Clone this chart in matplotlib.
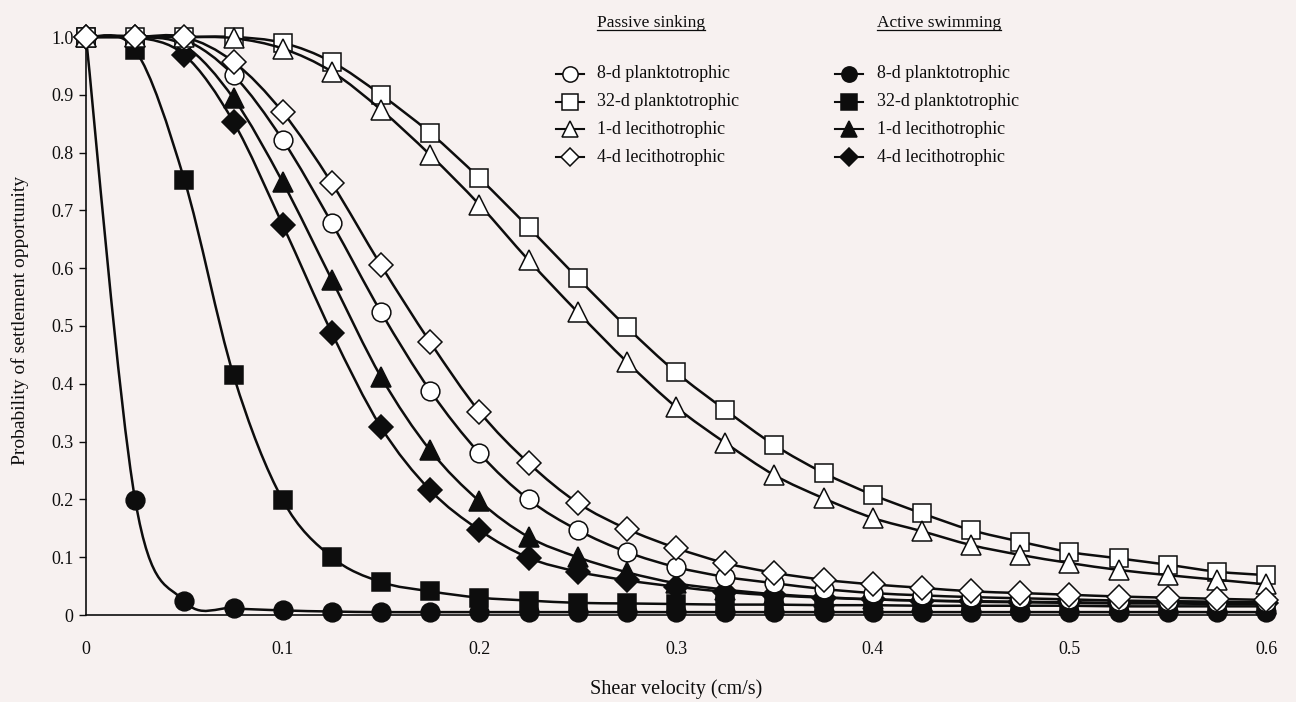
import matplotlib
matplotlib.use("Agg")
import matplotlib.pyplot as plt
import numpy as np
from matplotlib.lines import Line2D
from matplotlib.patches import PathPatch
from matplotlib.path import Path

# shear velocity (cm/s) at which each probability was computed
shear = [0.000, 0.025, 0.050, 0.075, 0.100, 0.125, 0.150, 0.175, 0.200,
         0.225, 0.250, 0.275, 0.300, 0.325, 0.350, 0.375, 0.400, 0.425,
         0.450, 0.475, 0.500, 0.525, 0.550, 0.575, 0.600]

# passive sinking (open symbols)
passive_8d = [1.000, 1.000, 0.995, 0.934, 0.822, 0.678, 0.524, 0.388, 0.280,
              0.200, 0.147, 0.109, 0.083, 0.066, 0.055, 0.045, 0.038, 0.034,
              0.031, 0.029, 0.027, 0.025, 0.024, 0.023, 0.022]
passive_32d = [1.000, 1.000, 1.000, 1.000, 0.990, 0.957, 0.900, 0.834, 0.756,
               0.671, 0.583, 0.498, 0.420, 0.355, 0.294, 0.246, 0.208, 0.176,
               0.147, 0.127, 0.109, 0.098, 0.087, 0.075, 0.069]
passive_1d = [1.000, 1.000, 1.000, 0.998, 0.980, 0.940, 0.874, 0.796, 0.710,
              0.614, 0.524, 0.438, 0.360, 0.298, 0.242, 0.202, 0.168, 0.145,
              0.121, 0.104, 0.090, 0.078, 0.069, 0.061, 0.053]
passive_4d = [1.000, 1.000, 1.000, 0.957, 0.870, 0.747, 0.605, 0.472, 0.352,
              0.263, 0.194, 0.149, 0.116, 0.090, 0.073, 0.061, 0.053, 0.047,
              0.041, 0.038, 0.035, 0.032, 0.030, 0.028, 0.026]

# active swimming (filled symbols)
active_8d = [1.000, 0.199, 0.024, 0.012, 0.008, 0.006, 0.005, 0.005, 0.005,
             0.005, 0.005, 0.005, 0.005, 0.005, 0.005, 0.005, 0.005, 0.005,
             0.005, 0.005, 0.005, 0.005, 0.005, 0.005, 0.005]
active_32d = [1.000, 0.978, 0.753, 0.415, 0.199, 0.100, 0.057, 0.041, 0.030,
              0.025, 0.021, 0.020, 0.019, 0.018, 0.018, 0.017, 0.017, 0.016,
              0.016, 0.016, 0.016, 0.015, 0.015, 0.015, 0.015]
active_1d = [1.000, 1.000, 0.985, 0.894, 0.749, 0.580, 0.412, 0.285, 0.197,
             0.135, 0.100, 0.074, 0.055, 0.044, 0.036, 0.031, 0.027, 0.025,
             0.023, 0.022, 0.021, 0.020, 0.020, 0.019, 0.019]
active_4d = [1.000, 1.000, 0.969, 0.853, 0.675, 0.488, 0.325, 0.216, 0.147,
             0.099, 0.075, 0.060, 0.049, 0.040, 0.034, 0.030, 0.027, 0.025,
             0.024, 0.023, 0.022, 0.021, 0.021, 0.020, 0.020]

labels = ["8-d planktotrophic", "32-d planktotrophic",
          "1-d lecithotrophic", "4-d lecithotrophic"]
markers = ["o", "s", "^", "D"]
plot_ms = [13.5, 13.5, 14.5, 12.5]
legend_ms = [11, 11, 12, 9.5]

BG = "#f7f1f0"
INK = "#0d0d0d"
W, H = 1296, 702

plt.rcParams.update({
    "font.family": ["Liberation Serif", "DejaVu Serif"],
    "font.size": 13,
    "figure.facecolor": BG,
    "axes.facecolor": BG,
})


def smooth_path(x, y):
    """Smooth curve through the points (Catmull-Rom as cubic Bezier)."""
    pts = np.column_stack([x, y])
    ext = np.vstack([pts[0], pts, pts[-1]])
    verts = [pts[0]]
    codes = [Path.MOVETO]
    for i in range(len(pts) - 1):
        p0, p1, p2, p3 = ext[i], ext[i + 1], ext[i + 2], ext[i + 3]
        verts += [p1 + (p2 - p0) / 6, p2 - (p3 - p1) / 6, p2]
        codes += [Path.CURVE4] * 3
    return Path(verts, codes)


fig = plt.figure(figsize=(W / 100, H / 100), dpi=100)
ax = fig.add_axes([86 / W, 1 - 615 / H, 1180 / W, 578 / H])

active = [active_8d, active_32d, active_1d, active_4d]
passive = [passive_8d, passive_32d, passive_1d, passive_4d]
z = 2
for group, face in ((active, INK), (passive, "white")):
    for vals, m, ms in zip(group, markers, plot_ms):
        ax.add_patch(PathPatch(smooth_path(shear, vals), fill=False,
                               edgecolor=INK, linewidth=1.8, zorder=z,
                               clip_on=False))
        ax.plot(shear, vals, linestyle="none", marker=m, markersize=ms,
                markerfacecolor=face, markeredgecolor=INK,
                markeredgewidth=1.1, clip_on=False, zorder=z + 1)
        z += 2

ax.set_xlim(0, 0.6)
ax.set_ylim(0, 1.0)
ax.set_xticks([0, 0.1, 0.2, 0.3, 0.4, 0.5, 0.6])
ax.set_xticklabels(["0", "0.1", "0.2", "0.3", "0.4", "0.5", "0.6"])
ax.set_yticks(np.linspace(0, 1, 11))
ax.set_yticklabels(["0"] + [f"{v:.1f}" for v in np.linspace(0.1, 1.0, 10)])
ax.tick_params(axis="x", length=0, pad=19, labelsize=13, colors=INK)
ax.tick_params(axis="y", length=5, width=1.0, pad=4, labelsize=13,
               direction="out", colors=INK)
for side in ("top", "right"):
    ax.spines[side].set_visible(False)
for side in ("left", "bottom"):
    ax.spines[side].set_linewidth(1.2)
    ax.spines[side].set_color(INK)

ax.set_xlabel("Shear velocity (cm/s)", fontsize=14.5, color=INK)
ax.xaxis.set_label_coords(0.5, -0.112)
ax.set_ylabel("Probability of settlement opportunity", fontsize=14, color=INK)
ax.yaxis.set_label_coords(-0.048, 0.51)

# two-column legend drawn by hand, with underlined headings
def fx(px):
    return px / W


def fy(py):
    return 1 - py / H


rows = [74, 102, 129, 157]
columns = [("Passive sinking", 570, 597, "white"),
           ("Active swimming", 849, 877, INK)]
titles = []
for title, mx, tx, face in columns:
    titles.append(fig.text(fx(tx), fy(27), title, fontsize=12.5,
                           va="baseline", ha="left", color=INK))
    for py, lab, m, ms in zip(rows, labels, markers, legend_ms):
        fig.add_artist(Line2D([fx(mx - 14), fx(mx + 14)], [fy(py), fy(py)],
                              transform=fig.transFigure, color=INK,
                              linewidth=1.5))
        fig.add_artist(Line2D([fx(mx)], [fy(py)], transform=fig.transFigure,
                              linestyle="none", marker=m, markersize=ms,
                              markerfacecolor=face, markeredgecolor=INK,
                              markeredgewidth=1.1))
        fig.text(fx(tx), fy(py), lab, fontsize=13, va="center", ha="left",
                 color=INK)

renderer = fig.canvas.get_renderer()
for t in titles:
    bb = t.get_window_extent(renderer)
    fig.add_artist(Line2D([bb.x0 / W, bb.x1 / W], [fy(29.5), fy(29.5)],
                          transform=fig.transFigure, color=INK, linewidth=0.9))

fig.savefig("out.png", dpi=100, facecolor=BG)
